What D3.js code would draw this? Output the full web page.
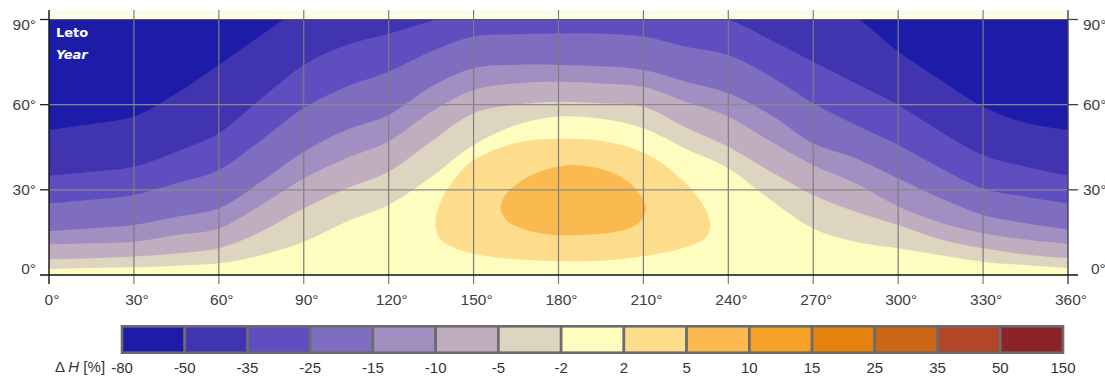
<!DOCTYPE html>
<html><head><meta charset="utf-8">
<script src="https://cdn.jsdelivr.net/npm/d3@7"></script>
<style>html,body{margin:0;padding:0;background:#fff}svg{display:block}</style>
</head><body>
<svg id="chart" width="1105" height="376"></svg>
<script>
// ---------- data ----------
const longitudes = [0,15,30,45,60,75,90,105,120,135,150,165,180,195,210,225,240,255,270,285,300,315,330,345,360];
// latitude of each contour (values above 90 lie outside the plotted area)
const contourM50 = [51.1,53.2,55.8,64,74,84.5,94.5,102,106,108,108,108,108,108,108,108,107,104,99,91,78.7,68.7,59.3,53.6,51.1];
const contourM35 = [35,36.4,38.1,43.4,49.9,62.2,74,81,85,89.5,94,96,97,97,96,93.5,90,82.8,75.1,67.5,59.9,50.5,42.3,38.1,35];
const contourM25 = [25.2,26.5,28.2,32.3,37,47.5,58.8,66.3,71.6,78.7,84,84.8,85.1,85,84,80.4,77.5,69.9,60.5,52.8,45.8,37.6,30.5,27.6,25.2];
const contourM15 = [15.5,16.5,17.6,20.5,23.5,32.9,43.4,51.1,56.4,66.3,72.8,74,74,73.5,72.2,68.1,64,56.4,46.4,41.1,34,27,21.1,18.2,16];
const contourM10 = [10.8,11.2,11.7,14.1,16.4,24.7,34,41.1,47,57.5,65.2,67.5,68.1,67.5,66.3,61,55.8,47,38.7,32.3,24.1,18.5,14.7,12.5,11];
const contourM5  = [5.5,5.9,6.5,7.6,9.4,15.3,23.5,30.5,36.4,47,57,60,61,60.5,59.3,52,45.2,36.4,28.2,22.3,17.6,12.5,9.4,7.2,5.9];
const contourM2  = [2.2,2.5,2.7,3.3,4.1,7,11.7,18.8,24.7,34.5,45.8,52.8,55.8,55,51.7,44.5,37.6,26.4,16.4,11.7,9.4,7,4.7,3.5,2.4];
// closed contours [lon, lat]
const contourP2 = [[136.5,18],[138,25],[142,32],[148,39],[156,43.5],[165,46.5],[175,47.8],[185,48],[195,47.2],[205,45],[214,41],[222,35],[228,29],[232.5,22],[233.5,17],[232,13],[227,10.5],[218,8],[205,6],[190,4.8],[175,5],[160,6],[150,7.5],[142,10],[138,13]];
const contourP5 = [[159.5,23.5],[161.5,28.5],[166,32.5],[173,36.3],[183,38.7],[194,37.6],[202,34.5],[207.5,30],[210.8,24],[209.5,19.5],[205,16.5],[196,14.6],[185,14],[174,14.6],[166,16.8],[161.5,19.5]];

const legendLevels = [-80,-50,-35,-25,-15,-10,-5,-2,2,5,10,15,25,35,50,150];
const bandColors = ["#1c1ca8","#4034b0","#5f4ec0","#7f6ebf","#a08fc0","#c0adbf","#ddd5c0","#fefcbf","#fddc8c","#fbba50","#f5a127","#e5820f","#cc6716","#b34528","#8b2428"];
const xTicks = [0,30,60,90,120,150,180,210,240,270,300,330,360];
const yTicks = [0,30,60,90];

// ---------- drawing ----------
const svg = d3.select("#chart");
const x = d3.scaleLinear().domain([0,360]).range([49,1068]);
const y = d3.scaleLinear().domain([0,90]).range([275,19.5]);
const frameTop = 10;

svg.append("defs").append("clipPath").attr("id","plotclip")
  .append("rect").attr("x",x(0)).attr("y",y(90)).attr("width",x(360)-x(0)).attr("height",y(0)-y(90));

// faint strip above the plotted range
svg.append("rect").attr("x",x(0)).attr("y",frameTop).attr("width",x(360)-x(0)).attr("height",y(90)-frameTop).attr("fill","#fdfbe7");

const plot = svg.append("g").attr("clip-path","url(#plotclip)");
plot.append("rect").attr("x",x(0)).attr("y",y(90)).attr("width",x(360)-x(0)).attr("height",y(0)-y(90)).attr("fill",bandColors[0]);

const openContours = [contourM50,contourM35,contourM25,contourM15,contourM10,contourM5,contourM2];
const area = d3.area().curve(d3.curveCatmullRom.alpha(0.5))
  .x((d,i)=>x(longitudes[i])).y0(y(0)).y1(d=>y(d));
openContours.forEach((c,k)=>{
  plot.append("path").attr("d",area(c)).attr("fill",bandColors[k+1]);
});
const closed = d3.line().curve(d3.curveCatmullRomClosed.alpha(0.5)).x(d=>x(d[0])).y(d=>y(d[1]));
plot.append("path").attr("d",closed(contourP2)).attr("fill",bandColors[8]);
plot.append("path").attr("d",closed(contourP5)).attr("fill",bandColors[9]);

// grid
const grid = svg.append("g");
xTicks.filter(t=>t>0&&t<360).forEach(t=>{
  grid.append("line").attr("x1",x(t)).attr("x2",x(t)).attr("y1",frameTop).attr("y2",y(0)+9)
    .attr("stroke","#7d7d7d").attr("stroke-width",1.2);
});
yTicks.filter(t=>t>0&&t<90).forEach(t=>{
  grid.append("line").attr("x1",x(0)).attr("x2",x(360)).attr("y1",y(t)).attr("y2",y(t))
    .attr("stroke","#8a8a8a").attr("stroke-width",1.2);
});
grid.append("line").attr("x1",x(0)).attr("x2",x(360)).attr("y1",y(90)).attr("y2",y(90)).attr("stroke","#555").attr("stroke-width",1.2);
grid.append("line").attr("x1",x(0)).attr("x2",x(0)).attr("y1",frameTop).attr("y2",y(0)+9).attr("stroke","#111").attr("stroke-width",1.4);
grid.append("line").attr("x1",x(360)).attr("x2",x(360)).attr("y1",frameTop).attr("y2",y(0)+9).attr("stroke","#444").attr("stroke-width",1.4);
grid.append("line").attr("x1",x(0)-9).attr("x2",x(360)+10).attr("y1",y(0)).attr("y2",y(0)).attr("stroke","#111").attr("stroke-width",1.4);
yTicks.filter(t=>t>0).forEach(t=>{
  grid.append("line").attr("x1",x(0)-9).attr("x2",x(0)).attr("y1",y(t)).attr("y2",y(t)).attr("stroke","#222").attr("stroke-width",1.3);
  grid.append("line").attr("x1",x(360)).attr("x2",x(360)+10).attr("y1",y(t)).attr("y2",y(t)).attr("stroke","#444").attr("stroke-width",1.3);
});

const labFont = "'Liberation Sans', Arial, sans-serif";
svg.append("g").selectAll("text").data(xTicks).join("text")
  .attr("x",d=>x(d)+3).attr("y",305).attr("text-anchor","middle")
  .attr("font-family",labFont).attr("font-size",15.5).attr("fill","#404040")
  .text(d=>d+"°");
const yLabY = d=> Math.min(Math.max(y(d)+5.5, 30), 274);
svg.append("g").selectAll("text").data(yTicks).join("text")
  .attr("x",36).attr("y",yLabY).attr("text-anchor","end")
  .attr("font-family",labFont).attr("font-size",15.5).attr("fill","#404040")
  .text(d=>d+"°");
svg.append("g").selectAll("text").data(yTicks).join("text")
  .attr("x",d=> d===0 ? 1091 : 1083).attr("y",yLabY).attr("text-anchor","start")
  .attr("font-family",labFont).attr("font-size",15.5).attr("fill","#404040")
  .text(d=>d+"°");

svg.append("text").attr("x",56).attr("y",37).attr("fill","#fff")
  .attr("font-family","'DejaVu Sans', Verdana, sans-serif").attr("font-weight","bold").attr("font-size",13).text("Leto");
svg.append("text").attr("x",56).attr("y",59).attr("fill","#fff")
  .attr("font-family","'DejaVu Sans', Verdana, sans-serif").attr("font-weight","bold").attr("font-style","italic").attr("font-size",13).text("Year");

const lx = d3.scaleLinear().domain([0,bandColors.length]).range([122,1063]);
const legend = svg.append("g");
legend.selectAll("rect").data(bandColors).join("rect")
  .attr("x",(d,i)=>lx(i)).attr("y",326.3).attr("width",(d,i)=>lx(i+1)-lx(i)).attr("height",26.4)
  .attr("fill",d=>d).attr("stroke","#6c6c6c").attr("stroke-width",2.6);
legend.selectAll("text").data(legendLevels).join("text")
  .attr("x",(d,i)=>lx(i)).attr("y",373).attr("text-anchor","middle")
  .attr("font-family",labFont).attr("font-size",15).attr("fill","#333")
  .text(d=>d);
const dh = legend.append("text").attr("x",55).attr("y",372).attr("font-family",labFont).attr("font-size",15).attr("fill","#333");
dh.append("tspan").text("Δ ");
dh.append("tspan").attr("font-style","italic").text("H");
dh.append("tspan").text(" [%]");
</script>
</body></html>
